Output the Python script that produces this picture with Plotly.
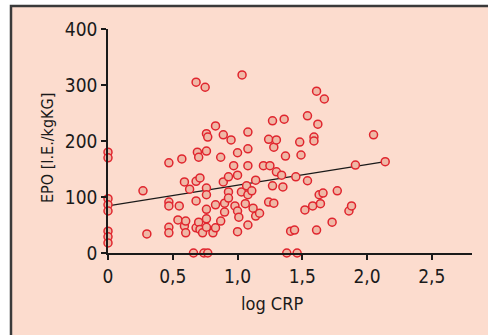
import plotly.graph_objects as go

# Data (log CRP, EPO)
log_crp = [0, 0, 0, 0, 0, 0, 0, 0,
           0.27, 0.30,
           0.47, 0.47, 0.47, 0.47, 0.47,
           0.54, 0.55, 0.57, 0.59, 0.59, 0.60, 0.60,
           0.63, 0.66,
           0.68, 0.68, 0.68, 0.68,
           0.69, 0.70, 0.70,
           0.71, 0.71, 0.73, 0.74,
           0.75, 0.76, 0.77, 0.76, 0.76, 0.76, 0.76, 0.76, 0.76, 0.77,
           0.81, 0.83, 0.83, 0.83,
           0.87, 0.87, 0.89, 0.89, 0.90, 0.90,
           0.93, 0.93, 0.93, 0.95, 0.97, 0.98,
           1.00, 1.00, 1.00, 1.00, 1.01, 1.03, 1.035,
           1.06, 1.07, 1.08, 1.08, 1.08, 1.08, 1.08, 1.11, 1.12, 1.14, 1.14, 1.17,
           1.20, 1.24, 1.24, 1.25, 1.27, 1.27, 1.28, 1.28, 1.30, 1.30,
           1.34, 1.35, 1.36, 1.37, 1.38, 1.41, 1.44, 1.45, 1.46,
           1.48, 1.49, 1.52, 1.54, 1.54, 1.58, 1.59, 1.59, 1.61, 1.61, 1.62,
           1.63, 1.64, 1.66, 1.67, 1.73, 1.77, 1.86, 1.88, 1.91, 2.05, 2.14]
epo = [180, 170, 97, 86, 75, 39, 29, 18,
       111, 34,
       161, 91, 84, 46, 36,
       59, 84, 168, 127, 48, 57, 36,
       114, 0,
       305, 128, 93, 45,
       180, 171, 55,
       134, 42, 36, 0,
       296, 213, 207, 182, 116, 104, 78, 61, 46, 0,
       36, 227, 86, 45,
       171, 57, 211, 127, 89, 73,
       136, 109, 98, 202, 156, 84,
       179, 139, 75, 38, 64, 109, 318,
       88, 120, 216, 186, 156, 104, 50, 111, 80, 130, 66, 71,
       156, 203, 91, 156, 236, 120, 189, 89, 202, 145,
       139, 118, 239, 173, 0, 39, 41, 136, 0,
       198, 175, 77, 245, 129, 84, 207, 200, 289, 41, 230,
       104, 88, 107, 275, 55, 111, 75, 84, 157, 211, 163]

# Regression line
fit_x = [0, 2.14]
fit_y = [84, 163]

x_tickvals = [0, 0.5, 1.0, 1.5, 2.0, 2.5]
x_ticktext = ["0", "0,5", "1,0", "1,5", "2,0", "2,5"]
y_tickvals = [0, 100, 200, 300, 400]
y_ticktext = ["0", "100", "200", "300", "400"]

FONT = "DejaVu Sans Condensed, Liberation Sans Narrow, sans-serif"
BG = "#fcdcce"
TXT = "#1a1a1a"

fig = go.Figure()
fig.add_trace(go.Scatter(x=fit_x, y=fit_y, mode="lines",
                         line=dict(color=TXT, width=1.3),
                         hoverinfo="skip", cliponaxis=False))
fig.add_trace(go.Scatter(x=log_crp, y=epo, mode="markers",
                         marker=dict(size=8, color="#efb8a6",
                                     line=dict(color="#e0252e", width=1.5)),
                         cliponaxis=False))

tickfont = dict(family=FONT, size=19, color=TXT)

fig.update_layout(
    width=488, height=335,
    margin=dict(l=108, r=16, t=29, b=82),
    paper_bgcolor="white",
    plot_bgcolor="rgba(0,0,0,0)",
    showlegend=False,
    font=dict(family=FONT, size=19, color=TXT),
    shapes=[dict(type="rect", xref="paper", yref="paper",
                 x0=-0.2665, x1=1.07, y0=-0.45, y1=1.1027,
                 fillcolor=BG, line=dict(color="#3a3a3a", width=2.5),
                 layer="below")],
    annotations=[
        dict(text="log CRP", xref="paper", yref="paper",
             x=(272 - 108) / 364, y=(253 - 303) / 224,
             xanchor="center", yanchor="middle", showarrow=False,
             font=dict(family=FONT, size=18, color=TXT)),
        dict(text="EPO [I.E./kgKG]", xref="paper", yref="paper",
             x=(47 - 108) / 364, y=(253 - 148) / 224, textangle=-90,
             xanchor="center", yanchor="middle", showarrow=False,
             font=dict(family=FONT, size=16, color=TXT)),
    ],
)
fig.update_xaxes(range=[0, 2.81], tickvals=x_tickvals, ticktext=x_ticktext,
                 tickfont=tickfont,
                 showgrid=False, zeroline=False, showline=True,
                 linecolor=TXT, linewidth=1.5,
                 ticks="outside", ticklen=5, tickwidth=1.5, tickcolor=TXT)
fig.update_yaxes(range=[0, 400], tickvals=y_tickvals, ticktext=y_ticktext,
                 tickfont=tickfont,
                 showgrid=False, zeroline=False, showline=True,
                 linecolor=TXT, linewidth=1.5,
                 ticks="outside", ticklen=5, tickwidth=1.5, tickcolor=TXT)

fig.write_html("out.html", config={"displayModeBar": False},
               post_script="document.body.style.margin='0';document.body.style.padding='0';")
